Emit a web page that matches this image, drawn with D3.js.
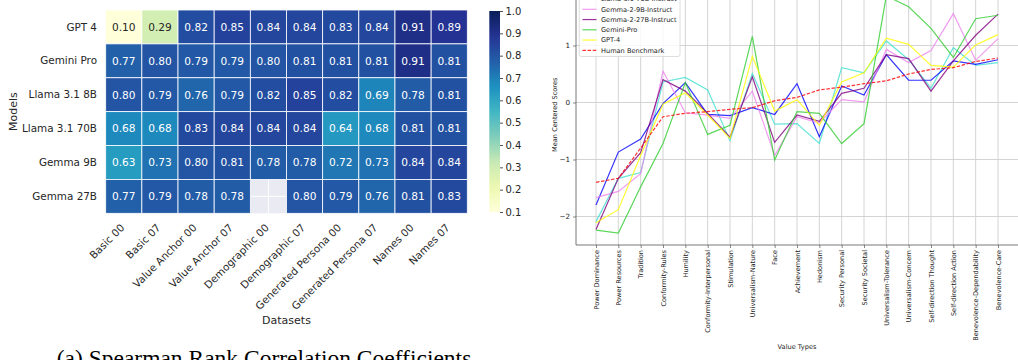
<!DOCTYPE html>
<html>
<head>
<meta charset="utf-8">
<script src="https://cdn.jsdelivr.net/npm/d3@7"></script>
<style>
  body { margin: 0; background: #fff; }
  svg { display: block; font-family: "DejaVu Sans", sans-serif; }
</style>
</head>
<body>
<div id="chart"></div>
<script>
// ---- heatmap data ----
const models = ["GPT 4", "Gemini Pro", "Llama 3.1 8B", "Llama 3.1 70B", "Gemma 9B", "Gemma 27B"];
const datasets = [
  "Basic 00", "Basic 07", "Value Anchor 00", "Value Anchor 07", "Demographic 00",
  "Demographic 07", "Generated Persona 00", "Generated Persona 07", "Names 00", "Names 07",
];
const correlations = [
  [0.10, 0.29, 0.82, 0.85, 0.84, 0.84, 0.83, 0.84, 0.91, 0.89],
  [0.77, 0.80, 0.79, 0.79, 0.80, 0.81, 0.81, 0.81, 0.91, 0.81],
  [0.80, 0.79, 0.76, 0.79, 0.82, 0.85, 0.82, 0.69, 0.78, 0.81],
  [0.68, 0.68, 0.83, 0.84, 0.84, 0.84, 0.64, 0.68, 0.81, 0.81],
  [0.63, 0.73, 0.80, 0.81, 0.78, 0.78, 0.72, 0.73, 0.84, 0.84],
  [0.77, 0.79, 0.78, 0.78, null, 0.80, 0.79, 0.76, 0.81, 0.83],
];
const colorbarTicks = [0.1, 0.2, 0.3, 0.4, 0.5, 0.6, 0.7, 0.8, 0.9, 1.0];

// ---- line chart data ----
const valueTypes = [
  "Power Dominance", "Power Resources", "Tradition", "Conformity-Rules", "Humility",
  "Conformity-Interpersonal", "Stimulation", "Universalism-Nature", "Face", "Achievement",
  "Hedonism", "Security Personal", "Security Societal", "Universalism-Tolerance",
  "Universalism-Concern", "Self-direction Thought", "Self-direction Action",
  "Benevolence-Dependability", "Benevolence-Care",
];
const llama8b = [-2.09, -1.33, -1.23, 0.36, 0.44, 0.22, -0.67, 0.51, -0.38, -0.37, -0.72, 0.61, 0.52, 1.08, 0.75, 0.25, 0.96, 0.65, 0.70];
const llama70b = [-1.80, -0.87, -0.64, -0.02, 0.35, -0.21, -0.23, -0.09, -0.21, 0.33, -0.60, 0.29, 0.13, 0.84, 0.39, 0.39, 0.73, 0.67, 0.75];
const gemma9b = [-1.67, -1.56, -1.25, 0.55, -0.18, -0.22, -0.28, 0.20, -0.93, -0.25, -0.36, 0.05, 0.01, 0.93, 0.70, 0.91, 1.56, 0.74, 1.12];
const gemma27b = [-2.23, -1.33, -0.88, 0.40, 0.20, -0.19, -0.61, 0.45, -0.70, -0.22, -0.33, 0.16, 0.25, 0.84, 0.77, 0.20, 0.73, 1.18, 1.55];
const geminiPro = [-2.24, -2.29, -1.48, -0.72, 0.35, -0.56, -0.40, 1.16, -1.01, -0.16, -0.19, -0.72, -0.37, 1.87, 1.68, 1.30, 0.79, 1.47, 1.53];
const gpt4 = [-2.11, -1.88, -0.93, -0.03, 0.17, -0.22, -0.63, 0.81, -0.15, 0.05, -0.40, 0.36, 0.52, 1.13, 1.02, 0.65, 0.62, 1.01, 1.19];
const humanBenchmark = [-1.40, -1.33, -0.80, -0.25, -0.19, -0.16, -0.12, -0.09, 0.03, 0.09, 0.22, 0.27, 0.33, 0.38, 0.50, 0.58, 0.61, 0.72, 0.78];
const yTicks = [-2, -1, 0, 1];

const seriesList = [
  { name: "Llama-3.1-8B-Instruct", values: llama8b, color: "#40e0d0", dash: null },
  { name: "Llama-3.1-70B-Instruct", values: llama70b, color: "#0000ff", dash: null },
  { name: "Gemma-2-9B-Instruct", values: gemma9b, color: "#ee82ee", dash: null },
  { name: "Gemma-2-27B-Instruct", values: gemma27b, color: "#800080", dash: null },
  { name: "Gemini-Pro", values: geminiPro, color: "#32cd32", dash: null },
  { name: "GPT-4", values: gpt4, color: "#ffff00", dash: null },
  { name: "Human Benchmark", values: humanBenchmark, color: "#ff0000", dash: "3.5,1.6" },
];

const ylgnbu = ["#ffffd9", "#edf8b1", "#c7e9b4", "#7fcdbb", "#41b6c4", "#1d91c0", "#225ea8", "#253494", "#081d58"];
const textDark = "#262626";

const svg = d3
  .select("#chart")
  .append("svg")
  .attr("width", 1018)
  .attr("height", 360);

svg.append("rect").attr("width", 1018).attr("height", 360).attr("fill", "white");

const drawHeatmap = () => {
  const x = d3.scaleBand().domain(datasets).range([105.7, 467.3]);
  const y = d3.scaleBand().domain(models).range([10, 213.3]);
  const color = d3
    .scaleLinear()
    .domain(ylgnbu.map((_, i) => 0.1 + (i * 0.9) / (ylgnbu.length - 1)))
    .range(ylgnbu)
    .interpolate(d3.interpolateRgb)
    .clamp(true);

  const g = svg.append("g");

  // seaborn darkgrid background, only visible where a cell is missing
  g.append("rect")
    .attr("x", x.range()[0])
    .attr("y", y.range()[0])
    .attr("width", x.range()[1] - x.range()[0])
    .attr("height", y.range()[1] - y.range()[0])
    .attr("fill", "#eaeaf2");
  g.selectAll(".vgrid")
    .data(datasets)
    .enter()
    .append("line")
    .attr("x1", (d) => x(d) + x.bandwidth() / 2)
    .attr("x2", (d) => x(d) + x.bandwidth() / 2)
    .attr("y1", y.range()[0])
    .attr("y2", y.range()[1])
    .attr("stroke", "white")
    .attr("stroke-width", 1);
  g.selectAll(".hgrid")
    .data(models)
    .enter()
    .append("line")
    .attr("y1", (d) => y(d) + y.bandwidth() / 2)
    .attr("y2", (d) => y(d) + y.bandwidth() / 2)
    .attr("x1", x.range()[0])
    .attr("x2", x.range()[1])
    .attr("stroke", "white")
    .attr("stroke-width", 1);

  const cells = [];
  correlations.forEach((row, r) =>
    row.forEach((v, c) => {
      if (v !== null) cells.push({ model: models[r], dataset: datasets[c], value: v });
    }),
  );

  g.selectAll(".cell")
    .data(cells)
    .enter()
    .append("rect")
    .attr("x", (d) => x(d.dataset))
    .attr("y", (d) => y(d.model))
    .attr("width", x.bandwidth())
    .attr("height", y.bandwidth())
    .attr("fill", (d) => color(d.value))
    .attr("stroke", "white")
    .attr("stroke-width", 0.8);

  const luminance = (c) => {
    const rgb = d3.rgb(c);
    const lin = [rgb.r, rgb.g, rgb.b].map((v) => {
      v /= 255;
      return v <= 0.03928 ? v / 12.92 : Math.pow((v + 0.055) / 1.055, 2.4);
    });
    return 0.2126 * lin[0] + 0.7152 * lin[1] + 0.0722 * lin[2];
  };

  g.selectAll(".annot")
    .data(cells)
    .enter()
    .append("text")
    .attr("x", (d) => x(d.dataset) + x.bandwidth() / 2)
    .attr("y", (d) => y(d.model) + y.bandwidth() / 2)
    .attr("dy", "0.36em")
    .attr("text-anchor", "middle")
    .attr("font-size", 10.6)
    .attr("fill", (d) => (luminance(color(d.value)) > 0.408 ? textDark : "white"))
    .text((d) => d.value.toFixed(2));

  // y tick labels
  g.selectAll(".ylab")
    .data(models)
    .enter()
    .append("text")
    .attr("x", 97)
    .attr("y", (d) => y(d) + y.bandwidth() / 2)
    .attr("dy", "0.35em")
    .attr("text-anchor", "end")
    .attr("font-size", 10.4)
    .attr("fill", textDark)
    .text((d) => d);

  // x tick labels, rotated 45 degrees
  g.selectAll(".xlab")
    .data(datasets)
    .enter()
    .append("text")
    .attr("transform", (d) => `translate(${x(d) + x.bandwidth() / 2 - 4},223) rotate(-45)`)
    .attr("dy", "0.72em")
    .attr("text-anchor", "end")
    .attr("font-size", 10.4)
    .attr("fill", textDark)
    .text((d) => d);

  g.append("text")
    .attr("x", (x.range()[0] + x.range()[1]) / 2)
    .attr("y", 324)
    .attr("text-anchor", "middle")
    .attr("font-size", 11)
    .attr("fill", textDark)
    .text("Datasets");

  g.append("text")
    .attr("transform", `translate(16.5,${(y.range()[0] + y.range()[1]) / 2}) rotate(-90)`)
    .attr("text-anchor", "middle")
    .attr("font-size", 11)
    .attr("fill", textDark)
    .text("Models");

  // colorbar
  const cbY = d3.scaleLinear().domain([0.1, 1.0]).range([212, 11]);
  const grad = svg
    .append("defs")
    .append("linearGradient")
    .attr("id", "cbar")
    .attr("x1", 0)
    .attr("y1", 1)
    .attr("x2", 0)
    .attr("y2", 0);
  grad
    .selectAll("stop")
    .data(d3.range(0, 1.0001, 0.02))
    .enter()
    .append("stop")
    .attr("offset", (t) => t)
    .attr("stop-color", (t) => color(0.1 + t * 0.9));
  g.append("rect")
    .attr("x", 489.3)
    .attr("y", cbY(1.0))
    .attr("width", 10.7)
    .attr("height", cbY(0.1) - cbY(1.0))
    .attr("fill", "url(#cbar)");

  const cbAxis = d3
    .axisRight(cbY)
    .tickValues(colorbarTicks)
    .tickFormat(d3.format(".1f"))
    .tickSize(3)
    .tickPadding(2.5);
  const cbg = g.append("g").attr("transform", "translate(500,0)").call(cbAxis);
  cbg.select(".domain").remove();
  cbg.selectAll("line").attr("stroke", textDark).attr("stroke-width", 0.8);
  cbg
    .selectAll("text")
    .attr("font-size", 10)
    .attr("fill", textDark)
    .attr("font-family", "DejaVu Sans, sans-serif");

  // caption
  svg
    .append("text")
    .attr("x", 264)
    .attr("y", 366)
    .attr("text-anchor", "middle")
    .attr("font-family", "Liberation Serif, serif")
    .attr("font-size", 23.5)
    .attr("fill", "#000")
    .text("(a) Spearman Rank Correlation Coefficients");
};

const drawLines = () => {
  const x = d3.scalePoint().domain(valueTypes).range([596, 998]);
  const y = d3.scaleLinear().domain([-2.5, 2.07]).range([245, -15.5]);
  const left = 576;
  const right = 1018;

  const g = svg.append("g");

  // grid
  g.selectAll(".vgrid")
    .data(valueTypes)
    .enter()
    .append("line")
    .attr("x1", (d) => x(d))
    .attr("x2", (d) => x(d))
    .attr("y1", y.range()[1])
    .attr("y2", y.range()[0])
    .attr("stroke", "#cfcfcf")
    .attr("stroke-width", 0.9);
  g.selectAll(".hgrid")
    .data(yTicks)
    .enter()
    .append("line")
    .attr("x1", left)
    .attr("x2", right)
    .attr("y1", (d) => y(d))
    .attr("y2", (d) => y(d))
    .attr("stroke", "#cfcfcf")
    .attr("stroke-width", 0.9);

  const line = d3
    .line()
    .x((d, i) => x(valueTypes[i]))
    .y((d) => y(d));

  seriesList.forEach((s) => {
    g.append("path")
      .datum(s.values)
      .attr("fill", "none")
      .attr("stroke", s.color)
      .attr("stroke-width", 1.2)
      .attr("stroke-opacity", 0.8)
      .attr("stroke-dasharray", s.dash)
      .attr("d", line);
  });

  // axes
  const xAxis = d3.axisBottom(x).tickSize(3).tickPadding(2);
  const xg = g.append("g").attr("transform", `translate(0,${y.range()[0]})`).call(xAxis);
  xg.select(".domain").attr("d", `M${left},0H${right}`).attr("stroke", "#555").attr("stroke-width", 0.8);
  xg.selectAll(".tick line").attr("stroke", "#555").attr("stroke-width", 0.7);
  xg.selectAll(".tick text")
    .attr("transform", "translate(0,5) rotate(-90)")
    .attr("x", 0)
    .attr("y", 0)
    .attr("dy", "0.35em")
    .attr("text-anchor", "end")
    .attr("font-size", 6.6)
    .attr("fill", "#222")
    .attr("font-family", "DejaVu Sans, sans-serif");

  const yAxis = d3
    .axisLeft(y)
    .tickValues(yTicks)
    .tickFormat((d) => (d < 0 ? "\u2212" + Math.abs(d) : String(d)))
    .tickSize(3)
    .tickPadding(3);
  const yg = g.append("g").attr("transform", `translate(${left},0)`).call(yAxis);
  yg.select(".domain").attr("d", `M0,${y.range()[0]}V${y.range()[1]}`).attr("stroke", "#555").attr("stroke-width", 0.8);
  yg.selectAll(".tick line").attr("stroke", "#555").attr("stroke-width", 0.7);
  yg.selectAll(".tick text")
    .attr("font-size", 7.2)
    .attr("fill", "#222")
    .attr("font-family", "DejaVu Sans, sans-serif");

  g.append("text")
    .attr("transform", `translate(557,${(y.range()[0] + y.range()[1]) / 2}) rotate(-90)`)
    .attr("text-anchor", "middle")
    .attr("font-size", 6.6)
    .attr("fill", "#222")
    .text("Mean Centered Scores");

  g.append("text")
    .attr("x", (left + right) / 2)
    .attr("y", 349)
    .attr("text-anchor", "middle")
    .attr("font-size", 6.6)
    .attr("fill", "#222")
    .text("Value Types");

  // legend, upper left (top rows fall outside the picture)
  const legend = g.append("g");
  const rowY = (i) => -11.2 + 10.25 * i;
  legend
    .append("rect")
    .attr("x", 579.3)
    .attr("y", -17.5)
    .attr("width", 100.7)
    .attr("height", 74)
    .attr("rx", 2)
    .attr("fill", "white")
    .attr("fill-opacity", 0.8)
    .attr("stroke", "#d6d6d6")
    .attr("stroke-width", 0.8);
  const items = legend
    .selectAll(".item")
    .data(seriesList)
    .enter()
    .append("g")
    .attr("transform", (d, i) => `translate(0,${rowY(i)})`);
  items
    .append("line")
    .attr("x1", 582.5)
    .attr("x2", 596.5)
    .attr("stroke", (d) => d.color)
    .attr("stroke-width", 1.2)
    .attr("stroke-opacity", 0.8)
    .attr("stroke-dasharray", (d) => d.dash);
  items
    .append("text")
    .attr("x", 601)
    .attr("dy", "0.35em")
    .attr("font-size", 6.6)
    .attr("fill", "#222")
    .text((d) => d.name);
};

drawHeatmap();
drawLines();
</script>
</body>
</html>
